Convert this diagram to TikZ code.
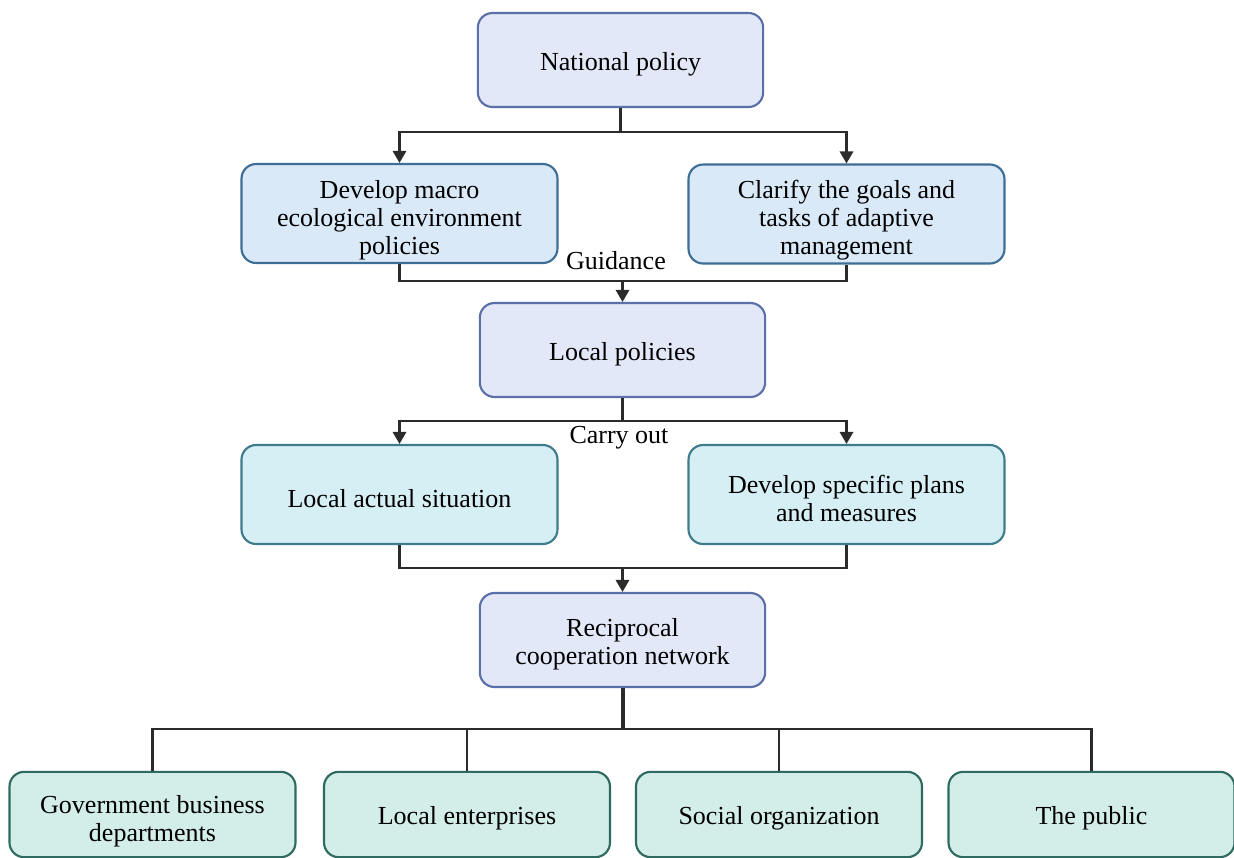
\documentclass[tikz,border=0pt]{standalone}
\usepackage{fontspec}
\setmainfont{Liberation Serif}
\usetikzlibrary{arrows.meta}
\definecolor{lavfill}{HTML}{E3E8F8}
\definecolor{lavdraw}{HTML}{5B6FA8}
\definecolor{bluefill}{HTML}{DAE9F8}
\definecolor{bluedraw}{HTML}{3D6E96}
\definecolor{cyanfill}{HTML}{D6EFF5}
\definecolor{cyandraw}{HTML}{3E7C8C}
\definecolor{greenfill}{HTML}{D3EDE9}
\definecolor{greendraw}{HTML}{2F6A60}
\definecolor{linecol}{HTML}{2B2B2B}
\newcommand{\topstrut}[1]{\rule{0pt}{#1}}
\begin{document}
\begin{tikzpicture}[x=0.75pt,y=-0.75pt,
  box/.style={draw, rounded corners=11pt, line width=1.6pt, align=center, inner sep=0pt,
    font=\fontsize{19.5}{21}\selectfont},
  lav/.style={box, fill=lavfill, draw=lavdraw, minimum width=214pt, minimum height=70.5pt},
  blu/.style={box, fill=bluefill, draw=bluedraw, minimum width=237pt, minimum height=74.25pt},
  cya/.style={box, fill=cyanfill, draw=cyandraw, minimum width=237pt, minimum height=74.25pt},
  grn/.style={box, fill=greenfill, draw=greendraw, minimum width=214.5pt, minimum height=64pt},
  conn/.style={draw=linecol, line width=1.6pt},
  arr/.style={conn, -{Triangle[length=9pt,width=10pt]}},
  lbl/.style={inner sep=0pt, font=\fontsize{19.5}{21}\selectfont}
]
\useasboundingbox[fill=white] (0,0) rectangle (1234,857);

\node[lav] (nat) at (620.5,60) {\topstrut{19.5pt}National policy};
\node[blu] (dev) at (399.5,213.5) {\topstrut{23pt}Develop macro\\ecological environment\\policies};
\node[blu] (cla) at (846.5,214) {\topstrut{23pt}Clarify the goals and\\tasks of adaptive\\management};
\node[lav] (loc) at (622.5,350) {\topstrut{19.5pt}Local policies};
\node[cya] (act) at (399.5,494.5) {\topstrut{19.5pt}Local actual situation};
\node[cya] (pla) at (846.5,494.5) {\topstrut{19pt}Develop specific plans\\and measures};
\node[lav] (rec) at (622.5,640) {\topstrut{20pt}Reciprocal\\cooperation network};
\node[grn] (gov) at (152.5,814.5) {\topstrut{23pt}Government business\\departments};
\node[grn] (ent) at (467,814.5) {\topstrut{19.5pt}Local enterprises};
\node[grn] (soc) at (779,814.5) {\topstrut{19.5pt}Social organization};
\node[grn] (pub) at (1091.5,814.5) {\topstrut{19.5pt}The public};

\node[lbl] (guid) at (616,261) {Guidance};
\node[lbl] (carry) at (619,438) {Carry out};

% National -> two
\coordinate (j1) at (620.5,132);
\draw[conn] (nat.south) -- (j1);
\draw[arr] (j1) -| (dev.north);
\draw[arr] (j1) -| (cla.north);

% two -> Local policies
\coordinate (j2) at (622.5,281);
\draw[conn] (dev.south) |- (j2) -| (cla.south);
\draw[arr] (j2) -- (loc.north);

% Local policies -> two
\coordinate (j3) at (622.5,421);
\draw[conn] (loc.south) -- (j3);
\draw[arr] (j3) -| (act.north);
\draw[arr] (j3) -| (pla.north);

% two -> Reciprocal
\coordinate (j4) at (622.5,568);
\draw[conn] (act.south) |- (j4) -| (pla.south);
\draw[arr] (j4) -- (rec.north);

% Reciprocal -> bottom row
\coordinate (j5) at (622.5,729);
\draw[conn, line width=3pt] (rec.south) -- (j5);
\draw[conn] (gov.north) -- (gov.north |- j5) -- (pub.north |- j5) -- (pub.north);
\draw[conn] (ent.north) -- (ent.north |- j5);
\draw[conn] (soc.north) -- (soc.north |- j5);
\end{tikzpicture}
\end{document}
